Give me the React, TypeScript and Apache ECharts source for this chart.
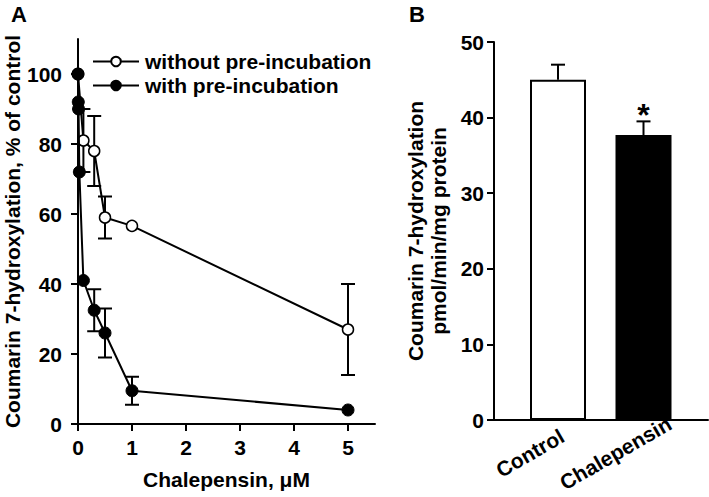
import React, { useEffect, useRef } from 'react';
import * as echarts from 'echarts';

// Panel A data
const concWithout = [0, 0.1, 0.3, 0.5, 1, 5];
const actWithout = [100, 81, 78, 59, 56.6, 27];
const errWithout = [0, 9, 10, 6, 0, 13];

const concWith = [0, 0.005, 0.01, 0.025, 0.1, 0.3, 0.5, 1, 5];
const actWith = [100, 92, 90, 72, 41, 32.5, 26, 9.5, 4];
const errWith = [0, 0, 0, 0, 0, 6, 7, 4, 0];

const xTicksA = [0, 1, 2, 3, 4, 5];
const yTicksA = [0, 20, 40, 60, 80, 100];

// Panel B data
const barCategories = ['Control', 'Chalepensin'];
const barValues = [45, 37.7];
const barErrors = [2, 1.8];
const barMarks = ['', '*'];
const yTicksB = [0, 10, 20, 30, 40, 50];

const FONT = 'Liberation Sans';
const FS = 21;

export default function App() {
  const ref = useRef<HTMLDivElement>(null);
  useEffect(() => {
    document.body.style.margin = '0';
    const chart = echarts.init(ref.current!, undefined, { renderer: 'svg' });
    const lineStyle = { color: '#000', width: 2 };
    const txt = { fontSize: FS, fontWeight: 'bold', color: '#000', fontFamily: FONT };

    const errItem = (capHalf: number, withBoth: boolean) => (params: any, api: any) => {
      const x = api.value(0);
      const y = api.value(1);
      const e = api.value(2);
      const style = { stroke: '#000', lineWidth: 2, fill: 'none' };
      const children: any[] = [];
      if (e) {
        const top = api.coord([x, y + e]);
        const bot = api.coord([x, withBoth ? y - e : y]);
        children.push({ type: 'line', shape: { x1: top[0], y1: top[1], x2: bot[0], y2: bot[1] }, style });
        children.push({ type: 'line', shape: { x1: top[0] - capHalf, y1: top[1], x2: top[0] + capHalf, y2: top[1] }, style });
        if (withBoth) {
          children.push({ type: 'line', shape: { x1: bot[0] - capHalf, y1: bot[1], x2: bot[0] + capHalf, y2: bot[1] }, style });
        }
      }
      if (!withBoth) {
        const mark = barMarks[params.dataIndex];
        if (mark) {
          const t = api.coord([x, y + e]);
          children.push({
            type: 'text',
            x: t[0],
            y: t[1] + 10,
            style: { text: mark, fill: '#000', font: `bold 32px "${FONT}"`, textAlign: 'center', textVerticalAlign: 'bottom' },
          });
        }
        const base = api.coord([x, 0]);
        children.push({
          type: 'text',
          x: base[0] - 28,
          y: base[1] + 33,
          rotation: Math.PI / 6,
          style: {
            text: barCategories[params.dataIndex],
            fill: '#000',
            font: `bold ${FS}px "${FONT}"`,
            textAlign: 'center',
            textVerticalAlign: 'middle',
          },
        });
      }
      return { type: 'group', children };
    };

    const option: any = {
      animation: false,
      textStyle: { fontFamily: FONT, fontWeight: 'bold', color: '#000' },
      graphic: [
        { type: 'text', left: 11, top: 3, style: { text: 'A', font: `bold 22px "${FONT}"`, fill: '#000' } },
        { type: 'text', left: 409, top: 3, style: { text: 'B', font: `bold 22px "${FONT}"`, fill: '#000' } },
      ],
      legend: {
        left: 87,
        top: 46,
        orient: 'vertical',
        itemWidth: 46,
        itemHeight: 12,
        itemGap: 3,
        textStyle: { ...txt, padding: [0, 0, 0, 1] },
        data: ['without pre-incubation', 'with pre-incubation'],
      },
      grid: [
        { left: 78, top: 39, width: 297, height: 385 },
        { left: 515.25, top: 42, width: 171, height: 378 },
        { left: 488, top: 42, width: 220, height: 378 },
      ],
      xAxis: [
        {
          gridIndex: 0,
          type: 'value',
          min: 0,
          max: 5.5,
          name: 'Chalepensin, \u03bcM',
          nameLocation: 'middle',
          nameGap: 45,
          nameTextStyle: txt,
          axisLine: { show: true, lineStyle },
          axisTick: { show: true, length: 7, lineStyle, customValues: xTicksA },
          axisLabel: { ...txt, margin: 13, customValues: xTicksA },
          splitLine: { show: false },
        },
        {
          gridIndex: 1,
          type: 'category',
          data: barCategories,
          axisLine: { show: false },
          axisTick: { show: false },
          axisLabel: { show: false },
        },
        {
          gridIndex: 2,
          type: 'value',
          min: 0,
          max: 1,
          axisLine: { show: true, lineStyle },
          axisTick: { show: false },
          axisLabel: { show: false },
          splitLine: { show: false },
        },
      ],
      yAxis: [
        {
          gridIndex: 0,
          type: 'value',
          min: 0,
          max: 110,
          name: 'Coumarin 7-hydroxylation, % of control',
          nameLocation: 'middle',
          nameGap: 51,
          nameTextStyle: txt,
          axisLine: { show: true, lineStyle },
          axisTick: { show: true, length: 7, lineStyle, customValues: yTicksA },
          axisLabel: { ...txt, margin: 16, customValues: yTicksA },
          splitLine: { show: false },
        },
        {
          gridIndex: 1,
          type: 'value',
          min: 0,
          max: 50,
          interval: 10,
          offset: 21.25,
          name: 'Coumarin 7-hydroxylation\npmol/min/mg protein',
          nameLocation: 'middle',
          nameGap: 44,
          nameTextStyle: { ...txt, lineHeight: 23 },
          axisLine: { show: true, lineStyle },
          axisTick: { show: true, length: 7, lineStyle, customValues: yTicksB },
          axisLabel: { ...txt, margin: 10, customValues: yTicksB },
          splitLine: { show: false },
        },
        { gridIndex: 2, type: 'value', show: false, min: 0, max: 1 },
      ],
      series: [
        {
          type: 'custom',
          xAxisIndex: 0,
          yAxisIndex: 0,
          z: 1,
          renderItem: errItem(7, true),
          data: concWithout.map((x, i) => [x, actWithout[i], errWithout[i]]),
        },
        {
          type: 'custom',
          xAxisIndex: 0,
          yAxisIndex: 0,
          z: 1,
          renderItem: errItem(7, true),
          data: concWith.map((x, i) => [x, actWith[i], errWith[i]]),
        },
        {
          name: 'without pre-incubation',
          type: 'line',
          xAxisIndex: 0,
          yAxisIndex: 0,
          z: 3,
          symbol: 'circle',
          symbolSize: 11,
          lineStyle,
          itemStyle: { color: '#fff', borderColor: '#000', borderWidth: 1.5 },
          data: concWithout.map((x, i) => [x, actWithout[i]]),
        },
        {
          name: 'with pre-incubation',
          type: 'line',
          xAxisIndex: 0,
          yAxisIndex: 0,
          z: 4,
          symbol: 'circle',
          symbolSize: 12,
          lineStyle,
          itemStyle: { color: '#000', borderColor: '#000', borderWidth: 1 },
          data: concWith.map((x, i) => [x, actWith[i]]),
        },
        {
          type: 'bar',
          xAxisIndex: 1,
          yAxisIndex: 1,
          barWidth: 56,
          z: 2,
          itemStyle: {
            color: (p: any) => (p.dataIndex === 0 ? '#fff' : '#000'),
            borderColor: '#000',
            borderWidth: 2,
          },
          data: barValues,
        },
        {
          type: 'custom',
          xAxisIndex: 1,
          yAxisIndex: 1,
          z: 3,
          clip: false,
          renderItem: errItem(7, false),
          data: barValues.map((v, i) => [i, v, barErrors[i]]),
        },
      ],
    };
    chart.setOption(option);
    return () => chart.dispose();
  }, []);
  return <div ref={ref} style={{ position: 'fixed', left: 0, top: 0, width: 709, height: 497, background: '#fff' }} />;
}
